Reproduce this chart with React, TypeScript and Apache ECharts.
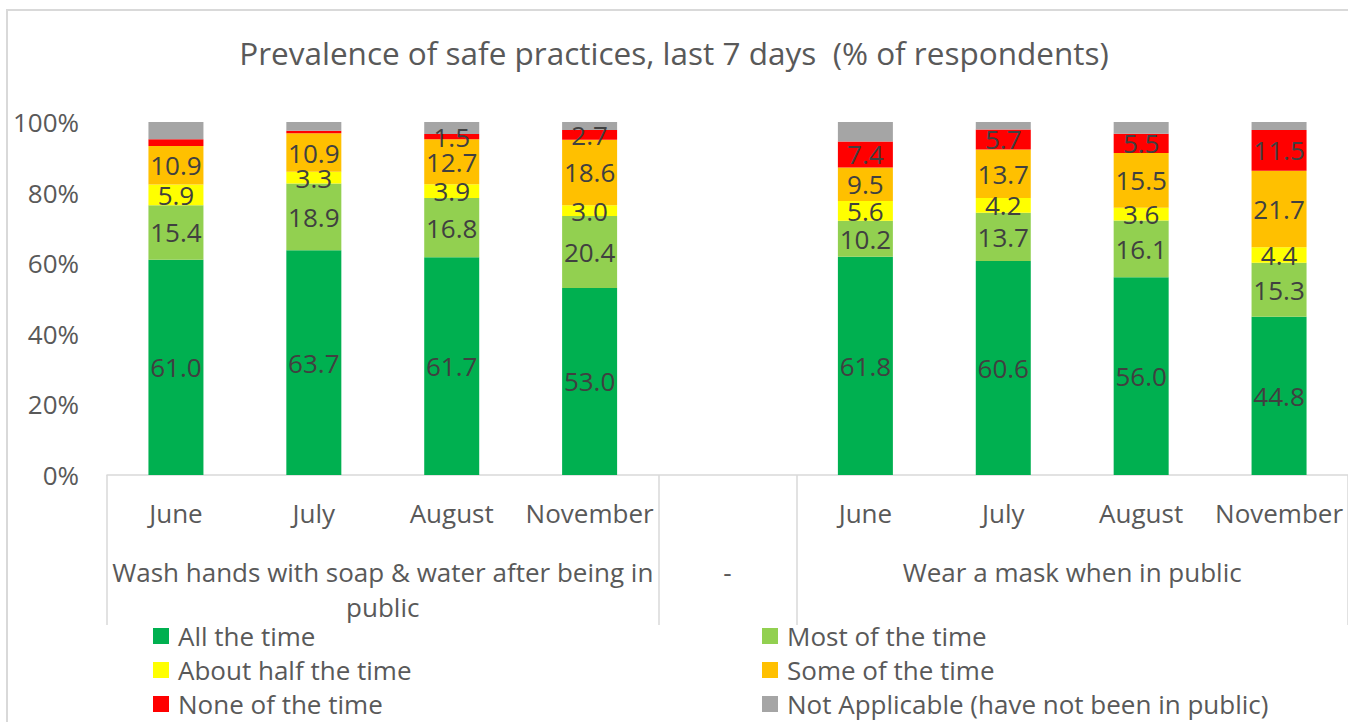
import React, { useEffect, useRef } from 'react';
import * as echarts from 'echarts';

const months = ['June', 'July', 'August', 'November'];
const groupLabels = ['Wash hands with soap & water after being in\npublic', '-', 'Wear a mask when in public'];
const groupCenters = [1.5, 4, 6.5];
const groupBounds = [-0.5, 3.5, 4.5, 8.5];
const seriesNames = [
  'All the time',
  'Most of the time',
  'About half the time',
  'Some of the time',
  'None of the time',
  'Not Applicable (have not been in public)',
];
const colors = ['#00B050', '#92D050', '#FFFF00', '#FFC000', '#FF0000', '#A5A5A5'];

const washAll = [61.0, 63.7, 61.7, 53.0];
const washMost = [15.4, 18.9, 16.8, 20.4];
const washHalf = [5.9, 3.3, 3.9, 3.0];
const washSome = [10.9, 10.9, 12.7, 18.6];
const washNone = [1.9, 0.7, 1.5, 2.7];
const washNA = [4.9, 2.5, 3.4, 2.3];

const maskAll = [61.8, 60.6, 56.0, 44.8];
const maskMost = [10.2, 13.7, 16.1, 15.3];
const maskHalf = [5.6, 4.2, 3.6, 4.4];
const maskSome = [9.5, 13.7, 15.5, 21.7];
const maskNone = [7.4, 5.7, 5.5, 11.5];
const maskNA = [5.5, 2.1, 3.3, 2.3];

// which series carry data labels, and label exceptions (combined category index)
const seriesLabelled = [true, true, true, true, true, false];
const noneHiddenLabels = [0, 1];

const FONT = 'Open Sans';
const TEXT = '#595959';
const FS = 26;

export default function App() {
  const ref = useRef<HTMLDivElement>(null);
  useEffect(() => {
    if (!ref.current) return;
    const chart = echarts.init(ref.current, undefined, { renderer: 'svg' });
    const categories = [...months, '', ...months];
    const join = (a: number[], b: number[]) => [...a, null, ...b];
    const values = [
      join(washAll, maskAll),
      join(washMost, maskMost),
      join(washHalf, maskHalf),
      join(washSome, maskSome),
      join(washNone, maskNone),
      join(washNA, maskNA),
    ];
    const series = values.map((vals, si) => ({
      name: seriesNames[si],
      type: 'bar',
      stack: 'total',
      barWidth: 55,
      xAxisIndex: 0,
      itemStyle: { color: colors[si] },
      label: {
        show: seriesLabelled[si],
        position: 'inside',
        color: '#404040',
        fontFamily: FONT,
        fontSize: FS,
        formatter: (p: any) => (p.value == null ? '' : Number(p.value).toFixed(1)),
      },
      data: vals.map((v, i) =>
        si === 4 && noneHiddenLabels.includes(i)
          ? { value: v, label: { show: false } }
          : v
      ),
    }));

    const legendBase = {
      orient: 'vertical',
      top: 623,
      height: 99,
      padding: 0,
      itemWidth: 16,
      itemHeight: 16,
      itemGap: 8,
      icon: 'rect',
      textStyle: { fontFamily: FONT, fontSize: FS, color: TEXT, lineHeight: 26, padding: [0, 0, 0, 4] },
    };

    chart.setOption({
      animation: false,
      backgroundColor: '#ffffff',
      title: {
        text: 'Prevalence of safe practices, last 7 days  (% of respondents)',
        left: 'center',
        top: 31,
        textStyle: { fontFamily: FONT, fontSize: 31.5, fontWeight: 'normal', color: TEXT },
      },
      graphic: [
        {
          type: 'rect',
          shape: { x: 7, y: 10, width: 1400, height: 800 },
          style: { fill: 'none', stroke: '#d9d9d9', lineWidth: 2 },
          silent: true,
        },
      ],
      legend: [
        { ...legendBase, data: [seriesNames[0], seriesNames[2], seriesNames[4]], left: 153 },
        { ...legendBase, data: [seriesNames[1], seriesNames[3], seriesNames[5]], left: 762 },
      ],
      grid: { left: 107, right: -4, top: 122, bottom: 247, containLabel: false },
      xAxis: [
        {
          type: 'category',
          data: categories,
          position: 'bottom',
          axisLine: { show: true, lineStyle: { color: '#d9d9d9', width: 1.5 } },
          axisTick: { show: false },
          axisLabel: { fontFamily: FONT, fontSize: FS, color: TEXT, margin: 25, interval: 0 },
          splitLine: { show: false },
        },
        {
          type: 'value',
          min: -0.5,
          max: 8.5,
          position: 'bottom',
          axisLine: { show: false },
          axisTick: {
            show: true,
            customValues: groupBounds,
            length: 150,
            lineStyle: { color: '#d9d9d9', width: 1.5 },
          },
          axisLabel: {
            show: true,
            customValues: groupCenters,
            margin: 79,
            fontFamily: FONT,
            fontSize: FS,
            lineHeight: 35,
            color: TEXT,
            formatter: (v: number) => {
              const idx = groupCenters.indexOf(v);
              return idx >= 0 ? groupLabels[idx] : '';
            },
          },
          splitLine: { show: false },
        },
      ],
      yAxis: {
        type: 'value',
        min: 0,
        max: 100,
        interval: 20,
        axisLine: { show: false },
        axisTick: { show: false },
        splitLine: { show: false },
        axisLabel: { formatter: '{value}%', fontFamily: FONT, fontSize: FS, color: TEXT, margin: 28 },
      },
      series,
    });
    return () => chart.dispose();
  }, []);
  return (
    <div
      ref={ref}
      style={{ position: 'fixed', left: 0, top: 0, width: 1348, height: 722, background: '#fff' }}
    />
  );
}
